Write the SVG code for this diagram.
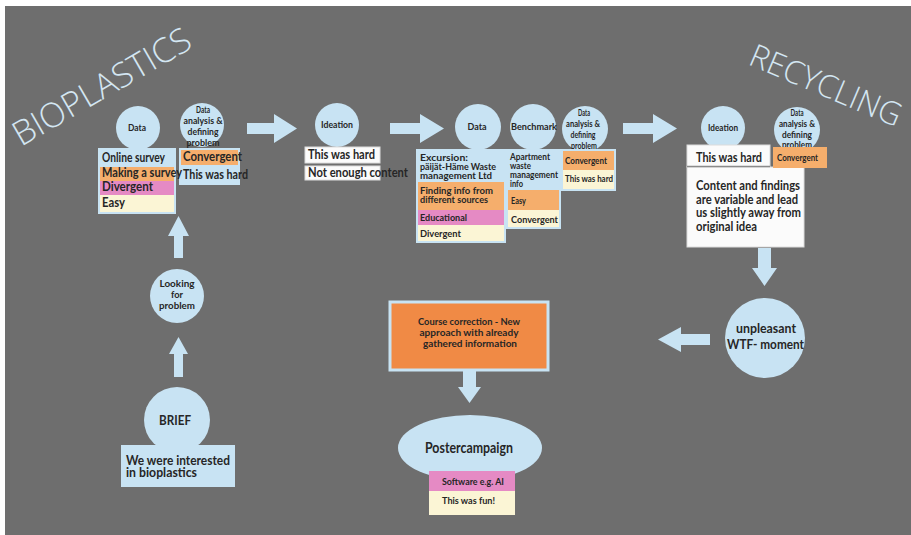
<svg xmlns="http://www.w3.org/2000/svg" width="911" height="535" viewBox="0 0 911 535">
<style>
text{font-family:Lato,"Open Sans","DejaVu Sans",sans-serif;fill:#262626;font-weight:bold}
.c{fill:#c8e3f3}
.lb{fill:#c8e3f3}
.or{fill:#f5ae6c}
.pk{fill:#e58ac4}
.cr{fill:#fbf5d5}
.wh{fill:#fbfbfb;stroke:#dcdcdc;stroke-width:1}
.frame{fill:none;stroke:#c8e3f3;stroke-width:2}
.ctr{text-anchor:middle}
.title{font-family:"Open Sans",Lato,sans-serif;font-weight:300;fill:#d4e6f2}
.arr{fill:#c8e3f3}
</style>
<rect x="0" y="0" width="911" height="535" fill="#ffffff"/>
<rect x="5" y="6" width="906" height="529" fill="#6e6e6e"/>

<text class="title" transform="translate(21,147) rotate(-30)" font-size="34" textLength="200" lengthAdjust="spacingAndGlyphs">BIOPLASTICS</text>
<text class="title" transform="translate(747,64) rotate(23)" font-size="32" textLength="162" lengthAdjust="spacingAndGlyphs">RECYCLING</text>

<g id="connectors">
<polygon class="arr" points="247,123 274,123 274,114 297,128.5 274,143 274,134 247,134"/>
<polygon class="arr" points="390,123 420,123 420,114 444,128.5 420,143 420,134 390,134"/>
<polygon class="arr" points="623,123 653,123 653,114 677,128.5 653,143 653,134 623,134"/>
<polygon class="arr" points="758,248 771,248 771,268 777,268 764.5,286 752,268 758,268"/>
<polygon class="arr" points="710,334 681,334 681,327 658,339.5 681,352 681,345 710,345"/>
<polygon class="arr" points="463,371 476,371 476,387 481,387 469.5,403 458,387 463,387"/>
<polygon class="arr" points="174,258 183,258 183,236 189,236 178.5,216 168,236 174,236"/>
<polygon class="arr" points="174,377 183,377 183,354 188,354 178.5,337 169,354 174,354"/>
</g>

<g id="brief">
<circle class="c" cx="177" cy="420" r="33"/>
<text class="ctr" x="175" y="425" font-size="14" textLength="32" lengthAdjust="spacingAndGlyphs">BRIEF</text>
<rect class="lb" x="121" y="445" width="114" height="42"/>
<text x="126" y="465" font-size="12.5" textLength="104" lengthAdjust="spacingAndGlyphs">We were interested</text>
<text x="126" y="477" font-size="12.5" textLength="71" lengthAdjust="spacingAndGlyphs">in bioplastics</text>
</g>

<g id="looking">
<circle class="c" cx="177" cy="296" r="27"/>
<text class="ctr" x="177" y="287" font-size="9.5" textLength="35" lengthAdjust="spacingAndGlyphs">Looking</text>
<text class="ctr" x="177" y="298" font-size="9.5" textLength="12" lengthAdjust="spacingAndGlyphs">for</text>
<text class="ctr" x="177" y="309" font-size="9.5" textLength="36" lengthAdjust="spacingAndGlyphs">problem</text>
</g>

<g id="analysis1">
<circle class="c" cx="202" cy="125" r="22"/>
<text class="ctr" x="203" y="113" font-size="9.5" textLength="14" lengthAdjust="spacingAndGlyphs">Data</text>
<text class="ctr" x="203" y="124" font-size="9.5" textLength="39" lengthAdjust="spacingAndGlyphs">analysis &amp;</text>
<text class="ctr" x="203" y="135" font-size="9.5" textLength="31" lengthAdjust="spacingAndGlyphs">defining</text>
<text class="ctr" x="203" y="146" font-size="9.5" textLength="33" lengthAdjust="spacingAndGlyphs">problem</text>
<rect class="or" x="180" y="149" width="59" height="16"/>
<rect class="lb" x="180" y="165" width="59" height="19"/>
<rect class="frame" x="180" y="149" width="59" height="35"/>
<text x="183" y="161" font-size="12.5" textLength="59" lengthAdjust="spacingAndGlyphs">Convergent</text>
<text x="183" y="179" font-size="12.5" textLength="65" lengthAdjust="spacingAndGlyphs">This was hard</text>
</g>

<g id="data1">
<circle class="c" cx="138" cy="128" r="22"/>
<text class="ctr" x="137" y="131" font-size="10" textLength="18" lengthAdjust="spacingAndGlyphs">Data</text>
<rect class="lb" x="99" y="149" width="76" height="18"/>
<rect class="or" x="99" y="167" width="76" height="14"/>
<rect class="pk" x="99" y="181" width="76" height="14"/>
<rect class="cr" x="99" y="195" width="76" height="18"/>
<rect class="frame" x="99" y="149" width="76" height="64"/>
<text x="102" y="162" font-size="12.5" textLength="63" lengthAdjust="spacingAndGlyphs">Online survey</text>
<text x="102" y="177" font-size="12.5" textLength="80" lengthAdjust="spacingAndGlyphs">Making a survey</text>
<text x="102" y="191" font-size="12.5" textLength="51" lengthAdjust="spacingAndGlyphs">Divergent</text>
<text x="102" y="207" font-size="12.5" textLength="23" lengthAdjust="spacingAndGlyphs">Easy</text>
</g>

<g id="ideation1">
<circle class="c" cx="337" cy="125" r="22"/>
<text class="ctr" x="337" y="128" font-size="9.5" textLength="32" lengthAdjust="spacingAndGlyphs">Ideation</text>
<rect class="wh" x="305" y="147" width="75" height="16"/>
<rect class="wh" x="305" y="166" width="75" height="14"/>
<text x="308" y="159" font-size="12.5" textLength="67" lengthAdjust="spacingAndGlyphs">This was hard</text>
<text x="308" y="177" font-size="12.5" textLength="100" lengthAdjust="spacingAndGlyphs">Not enough content</text>
</g>

<g id="data2">
<circle class="c" cx="478" cy="127" r="23"/>
<text class="ctr" x="477" y="130" font-size="10" textLength="19" lengthAdjust="spacingAndGlyphs">Data</text>
<rect class="lb" x="417" y="150" width="88" height="32"/>
<rect class="or" x="417" y="182" width="88" height="28"/>
<rect class="pk" x="417" y="210" width="88" height="15"/>
<rect class="cr" x="417" y="225" width="88" height="17"/>
<rect class="frame" x="417" y="150" width="88" height="92"/>
<text x="420" y="161" font-size="9.5" textLength="48" lengthAdjust="spacingAndGlyphs">Excursion:</text>
<text x="420" y="170" font-size="9.5" textLength="76" lengthAdjust="spacingAndGlyphs">päijät-Häme Waste</text>
<text x="420" y="179" font-size="9.5" textLength="72" lengthAdjust="spacingAndGlyphs">management Ltd</text>
<text x="420" y="194" font-size="9.5" textLength="73" lengthAdjust="spacingAndGlyphs">Finding  info from</text>
<text x="420" y="203" font-size="9.5" textLength="68" lengthAdjust="spacingAndGlyphs">different sources</text>
<text x="420" y="221" font-size="10" textLength="47" lengthAdjust="spacingAndGlyphs">Educational</text>
<text x="420" y="237" font-size="10" textLength="41" lengthAdjust="spacingAndGlyphs">Divergent</text>
</g>

<g id="benchmark">
<circle class="c" cx="533" cy="127" r="23"/>
<text class="ctr" x="534" y="130" font-size="9.5" textLength="46" lengthAdjust="spacingAndGlyphs">Benchmark</text>
<rect class="lb" x="507" y="150" width="53" height="40"/>
<rect class="or" x="507" y="190" width="53" height="20"/>
<rect class="cr" x="507" y="210" width="53" height="18"/>
<rect class="frame" x="507" y="150" width="53" height="78"/>
<text x="510" y="160" font-size="9" textLength="40" lengthAdjust="spacingAndGlyphs">Apartment</text>
<text x="510" y="169" font-size="9" textLength="21" lengthAdjust="spacingAndGlyphs">waste</text>
<text x="510" y="178" font-size="9" textLength="48" lengthAdjust="spacingAndGlyphs">management</text>
<text x="510" y="187" font-size="9" textLength="13" lengthAdjust="spacingAndGlyphs">info</text>
<text x="511" y="204" font-size="10" textLength="15" lengthAdjust="spacingAndGlyphs">Easy</text>
<text x="511" y="223" font-size="10" textLength="47" lengthAdjust="spacingAndGlyphs">Convergent</text>
</g>

<g id="analysis2">
<circle class="c" cx="585" cy="129" r="23"/>
<text class="ctr" x="584" y="116" font-size="9" textLength="12" lengthAdjust="spacingAndGlyphs">Data</text>
<text class="ctr" x="583" y="127" font-size="9" textLength="34" lengthAdjust="spacingAndGlyphs">analysis &amp;</text>
<text class="ctr" x="583" y="138" font-size="9" textLength="25" lengthAdjust="spacingAndGlyphs">defining</text>
<text class="ctr" x="584" y="149" font-size="9" textLength="26" lengthAdjust="spacingAndGlyphs">problem</text>
<rect class="or" x="562" y="150" width="53" height="20"/>
<rect class="cr" x="562" y="170" width="53" height="20"/>
<rect class="frame" x="562" y="150" width="53" height="40"/>
<text x="565" y="164" font-size="8.5" textLength="42" lengthAdjust="spacingAndGlyphs">Convergent</text>
<text x="565" y="182" font-size="8.5" textLength="48" lengthAdjust="spacingAndGlyphs">This was hard</text>
</g>

<g id="ideation2">
<circle class="c" cx="723" cy="128" r="22"/>
<text class="ctr" x="723" y="131" font-size="9.5" textLength="30" lengthAdjust="spacingAndGlyphs">Ideation</text>
<rect class="wh" x="687" y="145" width="83" height="22"/>
<rect class="wh" x="687" y="167" width="117" height="80"/>
<line x1="687" y1="166.5" x2="770" y2="166.5" stroke="#8a8a8a" stroke-width="1.5"/>
<text x="696" y="162" font-size="14" textLength="66" lengthAdjust="spacingAndGlyphs">This was hard</text>
<text x="696" y="190" font-size="12.5" textLength="104" lengthAdjust="spacingAndGlyphs">Content and findings</text>
<text x="696" y="203.5" font-size="12.5" textLength="102" lengthAdjust="spacingAndGlyphs">are variable and lead</text>
<text x="696" y="217" font-size="12.5" textLength="105" lengthAdjust="spacingAndGlyphs">us slightly away from</text>
<text x="696" y="230.5" font-size="12.5" textLength="61" lengthAdjust="spacingAndGlyphs">original idea</text>
</g>

<g id="analysis3">
<circle class="c" cx="797" cy="130" r="23"/>
<text class="ctr" x="797" y="116" font-size="9.5" textLength="13" lengthAdjust="spacingAndGlyphs">Data</text>
<text class="ctr" x="797" y="127" font-size="9.5" textLength="36" lengthAdjust="spacingAndGlyphs">analysis &amp;</text>
<text class="ctr" x="797" y="138" font-size="9.5" textLength="30" lengthAdjust="spacingAndGlyphs">defining</text>
<text class="ctr" x="797" y="148" font-size="9.5" textLength="30" lengthAdjust="spacingAndGlyphs">problem</text>
<rect class="or" x="773" y="147" width="54" height="21"/>
<text x="777" y="161" font-size="8.5" textLength="41" lengthAdjust="spacingAndGlyphs">Convergent</text>
</g>

<g id="wtf">
<circle class="c" cx="765" cy="338" r="40"/>
<text class="ctr" x="766" y="333" font-size="14" textLength="60" lengthAdjust="spacingAndGlyphs">unpleasant</text>
<text class="ctr" x="765.5" y="349" font-size="14" textLength="77" lengthAdjust="spacingAndGlyphs">WTF- moment</text>
</g>

<g id="course">
<rect x="390" y="302" width="158" height="68" fill="#f08a45" stroke="#c8e3f3" stroke-width="3"/>
<text class="ctr" x="469" y="325" font-size="10" textLength="102" lengthAdjust="spacingAndGlyphs">Course correction - New</text>
<text class="ctr" x="469" y="336" font-size="10" textLength="99" lengthAdjust="spacingAndGlyphs">approach with already</text>
<text class="ctr" x="470" y="347" font-size="10" textLength="94" lengthAdjust="spacingAndGlyphs">gathered information</text>
</g>

<g id="poster">
<ellipse class="c" cx="470" cy="448" rx="72" ry="33"/>
<text class="ctr" x="469" y="453" font-size="15" font-weight="normal" textLength="88" lengthAdjust="spacingAndGlyphs">Postercampaign</text>
<rect class="pk" x="429" y="471" width="86" height="20"/>
<rect class="cr" x="429" y="491" width="86" height="24"/>
<text x="442" y="485" font-size="10" textLength="62" lengthAdjust="spacingAndGlyphs">Software e.g. AI</text>
<text x="442" y="504" font-size="10" textLength="53" lengthAdjust="spacingAndGlyphs">This was fun!</text>
</g>
</svg>
